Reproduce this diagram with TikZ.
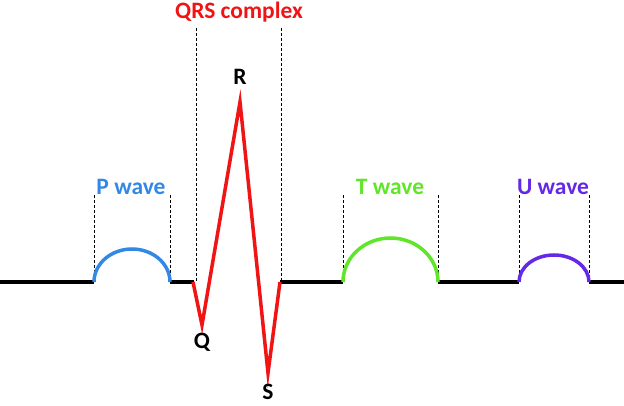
\documentclass[tikz,border=0pt]{standalone}
\usepackage{fontspec}
\setmainfont{Carlito}
\definecolor{pblue}{RGB}{51,136,230}
\definecolor{tgreen}{RGB}{95,230,40}
\definecolor{upurple}{RGB}{100,40,230}
\definecolor{qred}{RGB}{240,20,20}
\begin{document}
\begin{tikzpicture}[x=1pt,y=-1pt,
  wave/.style={line width=3.5pt},
  guide/.style={densely dashed,line width=0.5pt},
  lbl/.style={font=\fontsize{23.5}{26}\selectfont\bfseries,inner sep=1pt}]
\useasboundingbox (0,0) rectangle (624,406);
% guides
\foreach \x in {94,170,343,438,519,589} \draw[guide] (\x,195) -- (\x,282);
\foreach \x in {196,281} \draw[guide] (\x,28) -- (\x,282);
% baseline
\draw[wave] (0,282) -- (94,282);
\draw[wave] (170,282) -- (194,282);
\draw[wave] (280,282) -- (343,282);
\draw[wave] (438,282) -- (519,282);
\draw[wave] (589,282) -- (624,282);
% waves
\draw[wave,pblue] (94,282) arc[start angle=180,end angle=0,x radius=38pt,y radius=33pt];
\draw[wave,tgreen] (343,282) arc[start angle=180,end angle=0,x radius=47.5pt,y radius=44pt];
\draw[wave,upurple] (519,282) arc[start angle=180,end angle=0,x radius=35pt,y radius=27pt];
\draw[wave,qred,line join=miter] (193,282) -- (202,325) -- (240,102) -- (268,373) -- (280,282);
% labels
\node[lbl,text=qred] (qrs) at (239,12) {QRS complex};
\node[lbl,text=pblue] (p) at (131,187) {P wave};
\node[lbl,text=tgreen] (t) at (390,187) {T wave};
\node[lbl,text=upurple] (u) at (553,187) {U wave};
\node[lbl] (r) at (240,77) {R};
\node[lbl] (q) at (202,342) {Q};
\node[lbl] (s) at (268,392) {S};
\end{tikzpicture}
\end{document}
